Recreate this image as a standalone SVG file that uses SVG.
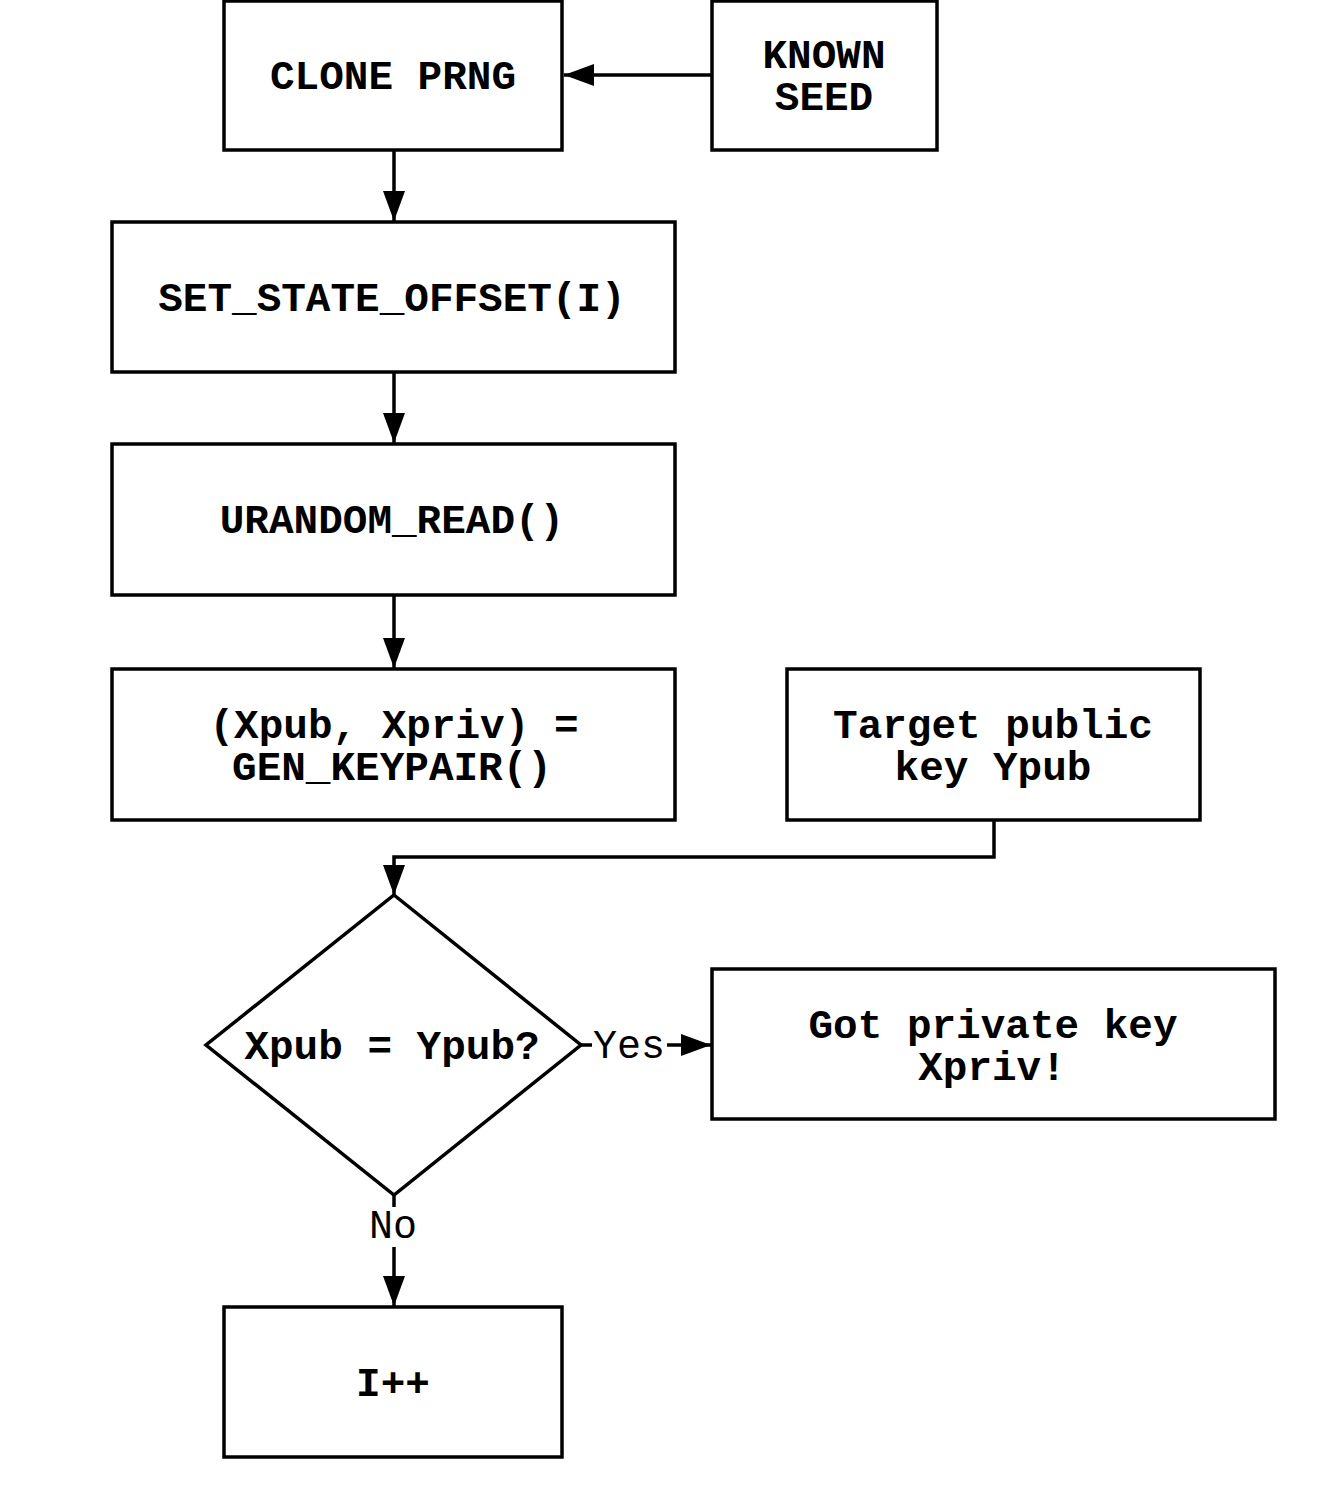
<svg xmlns="http://www.w3.org/2000/svg" width="1317" height="1500" viewBox="0 0 1317 1500">
<style>
.box{fill:#fff;stroke:#000;stroke-width:3.5}
.t{font-family:"Liberation Mono",monospace;font-weight:bold;font-size:41px;text-anchor:middle;fill:#000}
.lbl{font-family:"Liberation Mono",monospace;font-size:40px;text-anchor:middle;fill:#000}
.c{fill:none;stroke:#000;stroke-width:3.5}
</style>
<defs>
<marker id="ah" markerWidth="30" markerHeight="24" viewBox="0 0 30 24" refX="30" refY="12" orient="auto" markerUnits="userSpaceOnUse">
<path d="M0,1 L30,12 L0,23 Z" fill="#000"/>
</marker>
</defs>
<rect width="1317" height="1500" fill="#fff"/>
<g id="connectors">
<path class="c" d="M712,75 H564" marker-end="url(#ah)"/>
<path class="c" d="M394,150 V221" marker-end="url(#ah)"/>
<path class="c" d="M394,372 V443" marker-end="url(#ah)"/>
<path class="c" d="M394,595 V668" marker-end="url(#ah)"/>
<path class="c" d="M994,820 V857 H394 V895" marker-end="url(#ah)"/>
<path class="c" d="M581,1045 H592"/>
<path class="c" d="M667,1045 H711" marker-end="url(#ah)"/>
<text class="lbl" x="629" y="1058">Yes</text>
<path class="c" d="M394,1195 V1207"/>
<path class="c" d="M394,1247 V1306" marker-end="url(#ah)"/>
<text class="lbl" x="393" y="1238">No</text>
</g>
<g id="clone"><rect class="box" x="224" y="1" width="338" height="149"/><text class="t" x="393" y="89">CLONE PRNG</text></g>
<g id="seed"><rect class="box" x="712" y="1" width="225" height="149"/><text class="t" x="824" y="68">KNOWN</text><text class="t" x="824" y="110">SEED</text></g>
<g id="setstate"><rect class="box" x="112" y="222" width="563" height="150"/><text class="t" x="392" y="311">SET_STATE_OFFSET(I)</text></g>
<g id="urandom"><rect class="box" x="112" y="444" width="563" height="151"/><text class="t" x="392" y="533">URANDOM_READ()</text></g>
<g id="genkey"><rect class="box" x="112" y="669" width="563" height="151"/><text class="t" x="394" y="738">(Xpub, Xpriv) =</text><text class="t" x="392" y="780">GEN_KEYPAIR()</text></g>
<g id="target"><rect class="box" x="787" y="669" width="413" height="151"/><text class="t" x="993" y="738">Target public</text><text class="t" x="993" y="780">key Ypub</text></g>
<g id="decision"><path class="box" d="M394,895 L581,1045 L394,1195 L206,1045 Z"/><text class="t" x="392" y="1059">Xpub = Ypub?</text></g>
<g id="got"><rect class="box" x="712" y="969" width="563" height="150"/><text class="t" x="993" y="1038">Got private key</text><text class="t" x="992" y="1080">Xpriv!</text></g>
<g id="inc"><rect class="box" x="224" y="1307" width="338" height="150"/><text class="t" x="393" y="1396">I++</text></g>
</svg>
